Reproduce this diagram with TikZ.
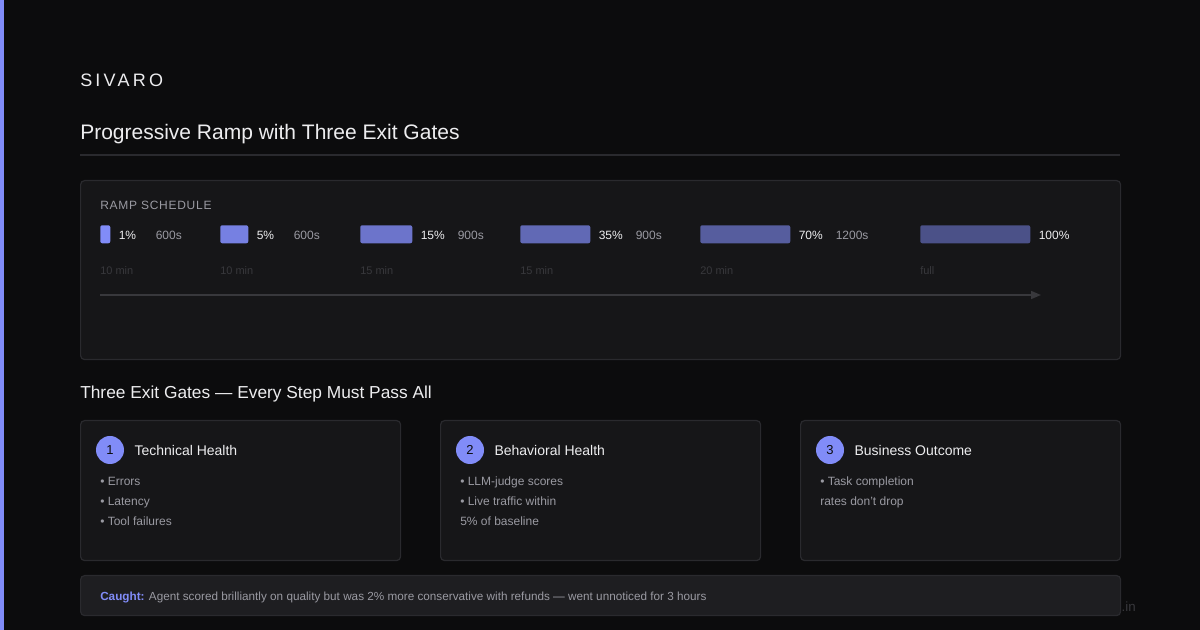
\documentclass[tikz,border=0pt]{standalone}
\usepackage{fontspec}
\setmainfont{Liberation Sans}
\usetikzlibrary{arrows.meta}
\definecolor{pagebg}{HTML}{0C0C0D}
\definecolor{panelbg}{HTML}{161618}
\definecolor{edgegray}{HTML}{2A2A2E}
\definecolor{accent}{HTML}{818CF8}
\definecolor{textwhite}{HTML}{EDEDEF}
\definecolor{textgray}{HTML}{9A9AA2}
\definecolor{faint}{HTML}{38383C}
\definecolor{callbg}{HTML}{1E1E21}
\tikzset{
    lbl/.style={anchor=base west, inner sep=0pt},
    panel/.style={draw=edgegray, fill=panelbg, rounded corners=3pt, line width=0.9pt, inner sep=0pt, anchor=north west},
    rampbar/.style={rounded corners=1.5pt, inner sep=0pt, minimum height=13.5pt, anchor=north west},
    pct/.style={lbl, text=textwhite, font=\fontsize{9}{11}\selectfont},
    dur/.style={lbl, text=textgray, font=\fontsize{9}{11}\selectfont},
    mins/.style={lbl, text=faint, font=\fontsize{8.25}{10}\selectfont},
    gatenum/.style={circle, fill=accent, minimum size=21pt, inner sep=0pt, text=pagebg, font=\fontsize{9.75}{11}\selectfont},
    gatetitle/.style={lbl, text=textwhite, font=\fontsize{10.5}{12}\selectfont},
    item/.style={lbl, text=textgray, font=\fontsize{9}{11}\selectfont},
}

\begin{document}
\begin{tikzpicture}[x=0.75pt,y=-0.75pt]
    \useasboundingbox (0,0) rectangle (1200,630);
    \fill[pagebg] (0,0) rectangle (1200,630);
    \fill[accent] (0,0) rectangle (4,630);

    % header
    \node[lbl, text=textwhite, font=\fontsize{13.5}{16}\selectfont\addfontfeatures{LetterSpace=18}] (brand) at (80,87) {SIVARO};
    \node[lbl, text=textwhite, font=\fontsize{15.75}{19}\selectfont] (title) at (80,140) {Progressive Ramp with Three Exit Gates};
    \coordinate (rulel) at (80,155);
    \coordinate (ruler) at (1120,155);
    \draw[edgegray, line width=1pt] (rulel) -- (ruler);

    % ramp schedule
    \node[panel, minimum width=780pt, minimum height=134.25pt] (ramp) at (80,180) {};
    \node[lbl, text=textgray, font=\fontsize{9}{11}\selectfont\addfontfeatures{LetterSpace=6}] (ramphead) at (100,210) {RAMP SCHEDULE};
    \foreach \i/\bx/\bw/\o/\p/\d/\m in {1/100/10/100/1\%/600s/10 min,
                                       2/220/28/90/5\%/600s/10 min,
                                       3/360/52/80/15\%/900s/15 min,
                                       4/520/70/70/35\%/900s/15 min,
                                       5/700/90/60/70\%/1200s/20 min,
                                       6/920/110/50/100\%//full}{
        \node[rampbar, fill=accent!\o!panelbg, minimum width=\bw*0.75pt] (bar\i) at (\bx,225) {};
        \node[pct] (pct\i) at ([shift={(6pt,3pt)}]bar\i.south east) {\p};
        \node[dur] (dur\i) at ([xshift=27.75pt]pct\i.base west) {\d};
        \node[mins] (min\i) at (\bx,275) {\m};
    }
    \coordinate (axs) at (100,295);
    \coordinate (axe) at (1041,295);
    \draw[faint, line width=1.2pt, -{Triangle[length=7.5pt,width=6pt]}] (axs) -- (axe);

    % exit gates
    \node[lbl, text=textwhite, font=\fontsize{13}{16}\selectfont] (gatehead) at (80,399) {Three Exit Gates --- Every Step Must Pass All};
    \foreach \i/\cx/\t in {1/80/Technical Health, 2/440/Behavioral Health, 3/800/Business Outcome}{
        \node[panel, minimum width=240pt, minimum height=105pt] (card\i) at (\cx,420) {};
        \node[gatenum] (num\i) at ([shift={(22.5pt,-22.5pt)}]card\i.north west) {\i};
        \node[gatetitle] (gtitle\i) at ([shift={(7.5pt,-4pt)}]num\i.east) {\t};
    }
    \node[item] (err) at (100,486) {• Errors};
    \node[item] (lat) at (100,506) {• Latency};
    \node[item] (tool) at (100,526) {• Tool failures};
    \node[item] (judge) at (460,486) {• LLM-judge scores};
    \node[item] (live) at (460,506) {• Live traffic within};
    \node[item] (base) at (460,526) {5\% of baseline};
    \node[item] (task) at (820,486) {• Task completion};
    \node[item] (rates) at (820,506) {rates don't drop};

    % footer and callout
    \node[anchor=base east, inner sep=0pt, text=faint, font=\fontsize{10}{12}\selectfont] (site) at (1136,612) {sivaro.in};
    \node[panel, fill=callbg, minimum width=780pt, minimum height=30pt] (caught) at (80,575) {};
    \node[item, font=\fontsize{8.8}{10}\selectfont] (caughttxt) at (100,600) {\textcolor{accent}{\bfseries Caught:} Agent scored brilliantly on quality but was 2\% more conservative with refunds --- went unnoticed for 3 hours};
\end{tikzpicture}
\end{document}
